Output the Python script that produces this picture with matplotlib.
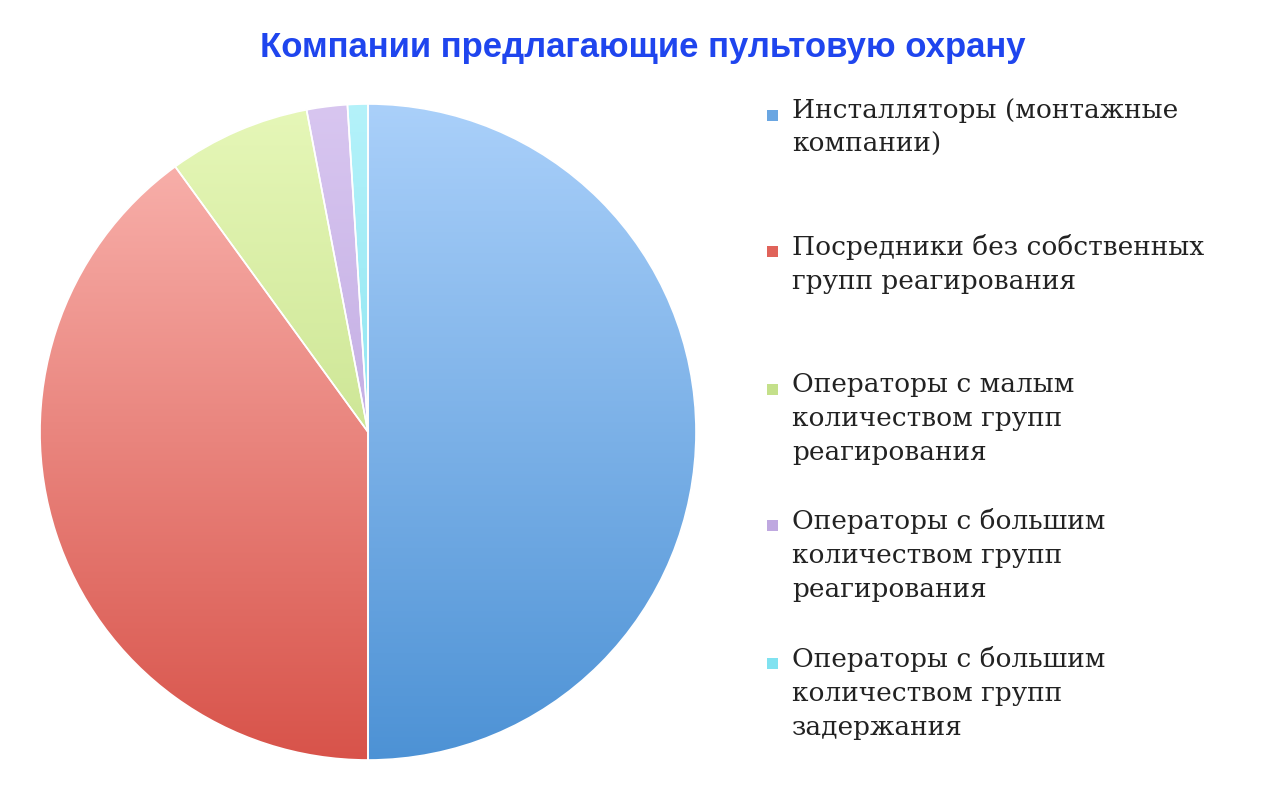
import matplotlib
matplotlib.use("Agg")
import matplotlib.pyplot as plt
import numpy as np
from matplotlib.colors import LinearSegmentedColormap

labels = ["Инсталляторы (монтажные\nкомпании)",
          "Посредники без собственных\nгрупп реагирования",
          "Операторы с малым\nколичеством групп\nреагирования",
          "Операторы с большим\nколичеством групп\nреагирования",
          "Операторы с большим\nколичеством групп\nзадержания"]
values = [50, 40, 7, 2, 1]
tops = ["#aad0fa", "#fbb8b3", "#e6f7b8", "#d8c6f0", "#b4f2fa"]
bottoms = ["#4d92d5", "#d8534a", "#b6d675", "#b198d8", "#6cdaea"]
legend_col = ["#6aa6e2", "#e0635a", "#c4e08a", "#bfa8e0", "#80e2f0"]

fig = plt.figure(figsize=(12.86, 7.9), dpi=100)
R = 330
ax = fig.add_axes([(368 - R) / 1286, (790 - 432 - R) / 790, 2 * R / 1286, 2 * R / 790])
wedges, _ = ax.pie(values, startangle=90, counterclock=False, radius=1,
                   wedgeprops=dict(linewidth=1.2, edgecolor="white"))
ax.set_xlim(-R / 328, R / 328)
ax.set_ylim(-R / 328, R / 328)
ax.set_aspect("equal")
ax.axis("off")
grad = np.linspace(1, 0, 256).reshape(-1, 1)
for w, t, b in zip(wedges, tops, bottoms):
    cmap = LinearSegmentedColormap.from_list("g", [b, t])
    im = ax.imshow(grad, cmap=cmap, extent=[-1, 1, -1, 1], aspect="auto", zorder=1, origin="upper")
    im.set_clip_path(w)
    w.set_facecolor("none")
    w.set_zorder(2)

fig.text(0.5, 1 - 48 / 790, "Компании предлагающие пультовую охрану", ha="center", va="center",
         fontsize=25, fontweight="bold", color="#1f45ee", family="Liberation Sans")

ys = [116, 252, 390, 526, 664]
for lab, y, c in zip(labels, ys, legend_col):
    fig.patches.append(plt.Rectangle((767 / 1286, 1 - (y + 5) / 790), 11 / 1286, 11 / 790,
                                     transform=fig.transFigure, facecolor=c, edgecolor="none"))
    fig.text(792 / 1286, 1 - (y - 18) / 790, lab, ha="left", va="top", fontsize=19,
             family="DejaVu Serif", color="#222222", linespacing=1.45)

fig.savefig("out.png", dpi=100, facecolor="white")
